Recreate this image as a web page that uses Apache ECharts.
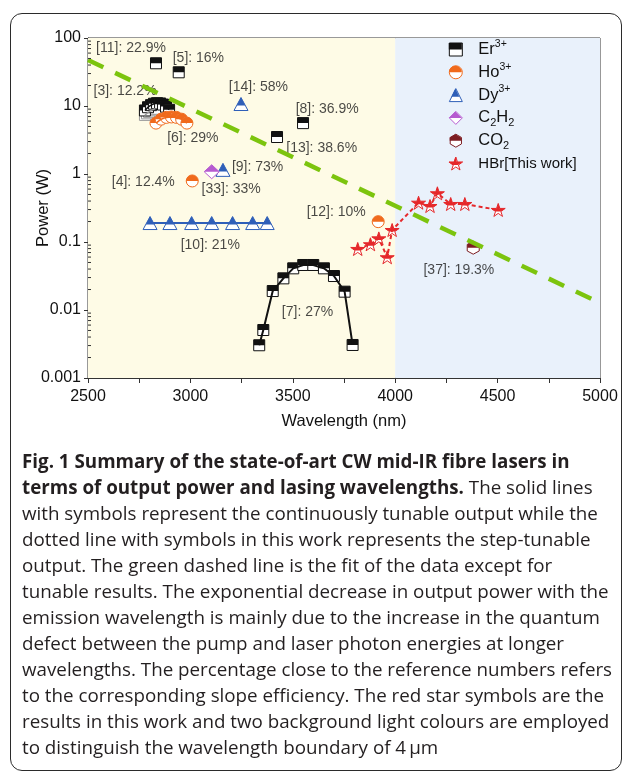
<!DOCTYPE html>
<html>
<head>
<meta charset="utf-8">
<script src="https://cdn.jsdelivr.net/npm/echarts@6.0.0/dist/echarts.min.js"></script>
<style>
html,body{margin:0;padding:0;background:#fff;width:630px;height:776px;overflow:hidden}
#chart{position:absolute;left:0;top:0;width:630px;height:776px}
#frame{position:absolute;left:10px;top:13px;width:612px;height:758px;box-sizing:border-box;border:1.6px solid #2b2b2b;border-radius:12px;pointer-events:none}
#cap{position:absolute;left:22px;top:448px;font-family:'Open Sans',sans-serif;color:#231f20;font-size:16px}
#cap .ln{height:26px;line-height:26px;white-space:nowrap}
#cap b{font-weight:700}
</style>
</head>
<body>
<div id="chart"></div>
<div id="frame"></div>
<div id="cap">
<div class="ln"><b>Fig. 1 Summary of the state-of-art CW mid-IR fibre lasers in</b></div>
<div class="ln"><b>terms of output power and lasing wavelengths.</b> The solid lines</div>
<div class="ln">with symbols represent the continuously tunable output while the</div>
<div class="ln">dotted line with symbols in this work represents the step-tunable</div>
<div class="ln">output. The green dashed line is the fit of the data except for</div>
<div class="ln">tunable results. The exponential decrease in output power with the</div>
<div class="ln">emission wavelength is mainly due to the increase in the quantum</div>
<div class="ln">defect between the pump and laser photon energies at longer</div>
<div class="ln">wavelengths. The percentage close to the reference numbers refers</div>
<div class="ln">to the corresponding slope efficiency. The red star symbols are the</div>
<div class="ln">results in this work and two background light colours are employed</div>
<div class="ln">to distinguish the wavelength boundary of 4&thinsp;μm</div>
</div>
<script>
// ---------------- data ----------------
const bandEdges = [2500, 4000, 5000];
const yDecades = [0.001, 0.01, 0.1, 1, 10];
const minorMultipliers = [2, 3, 4, 5, 6, 7, 8, 9];

const erSingle = [[2832, 42.5], [2943, 31.3], [3423, 3.5], [3550, 5.6]];
const erTunable3Gray = [[2778, 7.4], [2788, 7.8], [2798, 8.2], [2808, 8.6], [2818, 8.9], [2828, 9.1]];
const erTunable3 = [[2778, 8.6], [2793, 9.6], [2808, 10.3], [2822, 10.8], [2837, 11.0], [2852, 10.9], [2866, 10.5], [2881, 9.8], [2896, 8.8]];
const erTunable7 = [[3336, 0.00303], [3356, 0.00508], [3402, 0.019], [3454, 0.0292], [3502, 0.041], [3551, 0.0459], [3600, 0.0459], [3652, 0.041], [3701, 0.0316], [3753, 0.0186], [3792, 0.00306]];
const hoSingle = [[3009, 0.79], [3917, 0.199]];
const hoTunable6 = [[2832, 5.6], [2857, 6.4], [2882, 6.8], [2907, 6.9], [2932, 6.8], [2957, 6.4], [2983, 5.6]];
const dySingle = [[3247, 10.7], [3159, 1.15]];
const dyTunable10 = [[2803, 0.19], [2900, 0.19], [3006, 0.19], [3104, 0.19], [3206, 0.19], [3304, 0.19], [3375, 0.19]];
const c2h2Points = [[3104, 1.08]];
const co2Points = [[4381, 0.0824]];
const hbrPoints = [[3817, 0.0789], [3879, 0.0925], [3920, 0.113], [3961, 0.0596], [3985, 0.15], [4114, 0.378], [4170, 0.338], [4206, 0.52], [4271, 0.362], [4340, 0.362], [4503, 0.296]];
const fitLine = [[2500, 47.5], [5000, 0.0127]];

const refLabelTexts = ['[11]: 22.9%', '[5]: 16%', '[3]: 12.2%', '[14]: 58%', '[8]: 36.9%', '[6]: 29%', '[13]: 38.6%', '[9]: 73%', '[4]: 12.4%', '[33]: 33%', '[10]: 21%', '[12]: 10%', '[7]: 27%', '[37]: 19.3%'];
const refLabelAnchors = [[2710, 70.6], [3039, 51.3], [2681, 16.6], [3332, 18.8], [3668, 9.04], [3012, 3.35], [3641, 2.39], [3328, 1.28], [2770, 0.771], [3199, 0.596], [3097, 0.0903], [3712, 0.279], [3572, 0.00925], [4311, 0.0387]];

const legendNames = ['Er3+', 'Ho3+', 'Dy3+', 'C2H2', 'CO2', 'HBr[This work]'];
const legendRichText = {
  'Er3+': '{m|Er}{sup|3+}', 'Ho3+': '{m|Ho}{sup|3+}', 'Dy3+': '{m|Dy}{sup|3+}',
  'C2H2': '{m|C}{sub|2}{m|H}{sub|2}', 'CO2': '{m|CO}{sub|2}', 'HBr[This work]': '{h|HBr[This work]}'
};

// ---------------- styles ----------------
const FONT = 'Liberation Sans';
const COL = { er: '#111111', erGray: '#9a9a9a', ho: '#f06a1c', dy: '#2f5fb8', c2h2: '#b65bd0', co2: '#7d1d22', hbr: '#e5282b', fit: '#7cc40e' };
const SHAPES = {
  square: { full: 'M0,0L20,0L20,20L0,20Z', top: 'M0,0L20,0L20,10L0,10Z M0,20L20,20L20,20Z', size: [11, 11] },
  circle: { full: 'M0,10 A10,10 0 0,1 20,10 A10,10 0 0,1 0,10 Z', top: 'M0,10 A10,10 0 0,1 20,10 Z M10,20L10,20L10,20Z', size: [12, 12] },
  triangle: { full: 'M10,0L20,20L0,20Z', top: 'M10,0L16.2,12.4L3.8,12.4Z M0,20L20,20L20,20Z', size: [14, 13] },
  diamond: { full: 'M10,0L20,10L10,20L0,10Z', top: 'M10,0L20,10L0,10Z M10,20L10,20L10,20Z', size: [15, 14] },
  hexagon: { full: 'M10,0L18.66,5L18.66,15L10,20L1.34,15L1.34,5Z', top: 'M10,0L18.66,5L18.66,10L1.34,10L1.34,5Z M10,20L10,20L10,20Z', size: [12, 13] },
  star: { full: 'M10,0L12.245,6.91L19.51,6.91L13.633,11.18L15.88,18.09L10,13.82L4.12,18.09L6.367,11.18L0.49,6.91L7.755,6.91Z',
          top: 'M10,0L12.245,6.91L19.51,6.91L13.633,11.18L6.367,11.18L0.49,6.91L7.755,6.91Z M4.12,18.09L15.88,18.09L15.88,18.09Z', size: [14, 13] }
};

function markerSeries(name, data, color, shape) {
  const sh = SHAPES[shape];
  return {
    type: 'custom', name: name, data: data, z: 3, silent: true, clip: false,
    itemStyle: { color: color },
    renderItem: function (params, api) {
      const p = api.coord([api.value(0), api.value(1)]);
      const w = sh.size[0], h = sh.size[1];
      const r = { x: p[0] - w / 2, y: p[1] - h / 2, width: w, height: h, layout: 'cover' };
      return {
        type: 'group', children: [
          { type: 'path', shape: Object.assign({ pathData: sh.full }, r), style: { fill: '#ffffff', stroke: color, lineWidth: 1 } },
          { type: 'path', shape: Object.assign({ pathData: sh.top }, r), style: { fill: color, stroke: null } }
        ]
      };
    }
  };
}
function lineSeries(name, data, color, width, type) {
  return { type: 'line', name: name, data: data, symbol: 'none', silent: true, z: 3,
    lineStyle: { color: color, width: width, type: type || 'solid' }, itemStyle: { color: color } };
}

const legendShapes = { 'Er3+': ['square', COL.er], 'Ho3+': ['circle', COL.ho], 'Dy3+': ['triangle', COL.dy], 'C2H2': ['diamond', COL.c2h2], 'CO2': ['hexagon', COL.co2], 'HBr[This work]': ['star', COL.hbr] };
function richStyles(color) {
  return {
    m: { fontFamily: FONT, fontSize: 16.5, color: color, lineHeight: 22, verticalAlign: 'middle' },
    sup: { fontFamily: FONT, fontSize: 10.5, color: color, lineHeight: 15, verticalAlign: 'top' },
    sub: { fontFamily: FONT, fontSize: 11, color: color, lineHeight: 16, verticalAlign: 'bottom' },
    h: { fontFamily: FONT, fontSize: 15, color: color, lineHeight: 22, verticalAlign: 'middle' }
  };
}
function makeLegend(layer) {
  const isTop = layer === 'top';
  return {
    orient: 'vertical', left: 448.5, top: 38.5, padding: 0, itemWidth: 35, itemHeight: 13, itemGap: 0.8,
    selectedMode: false, symbolKeepAspect: true, z: isTop ? 6 : 5,
    formatter: function (n) { return legendRichText[n]; },
    textStyle: { fontFamily: FONT, fontSize: 16.5, lineHeight: 22, color: isTop ? 'rgba(0,0,0,0)' : '#111', rich: richStyles(isTop ? 'rgba(0,0,0,0)' : '#111') },
    data: legendNames.map(function (n) {
      const s = legendShapes[n];
      return {
        name: n, icon: 'path://' + SHAPES[s[0]][isTop ? 'top' : 'full'],
        itemStyle: isTop ? { color: s[1], borderColor: 'rgba(0,0,0,0)', borderWidth: 0 } : { color: '#ffffff', borderColor: s[1], borderWidth: 1 }
      };
    })
  };
}

const minorTickValues = [];
yDecades.forEach(function (d) { minorMultipliers.forEach(function (m) { minorTickValues.push([bandEdges[0], +(d * m).toPrecision(3)]); }); });

const chart = echarts.init(document.getElementById('chart'), null, { renderer: 'canvas' });
chart.setOption({
  animation: false,
  grid: { left: 88, right: 30, top: 38, bottom: 398, show: true, borderColor: '#333', borderWidth: 1, backgroundColor: 'transparent', containLabel: false, outerBoundsMode: 'none' },
  legend: [makeLegend('base'), makeLegend('top')],
  xAxis: {
    type: 'value', min: 2500, max: 5000, interval: 250,
    axisLine: { show: true, lineStyle: { color: '#333', width: 1 } },
    axisTick: { show: true, inside: false, length: 5, lineStyle: { color: '#333' } },
    axisLabel: { fontFamily: FONT, fontSize: 16, color: '#111', margin: 11, formatter: function (v) { return v % 500 === 0 ? String(v) : ''; } },
    splitLine: { show: false },
    name: 'Wavelength (nm)', nameLocation: 'middle', nameGap: 35, nameMoveOverlap: false,
    nameTextStyle: { fontFamily: FONT, fontSize: 16.5, color: '#111' }
  },
  yAxis: {
    type: 'log', logBase: 10, min: 0.001, max: 100,
    axisLine: { show: true, lineStyle: { color: '#333', width: 1 } },
    axisTick: { show: true, inside: false, length: 4, lineStyle: { color: '#333' } },
    axisLabel: { fontFamily: FONT, fontSize: 16, color: '#111', margin: 7, formatter: function (v) { return String(+Number(v).toPrecision(3)); } },
    splitLine: { show: false },
    name: 'Power (W)', nameLocation: 'middle', nameGap: 36, nameRotate: 90, nameMoveOverlap: false,
    nameTextStyle: { fontFamily: FONT, fontSize: 16.5, color: '#111' }
  },
  series: [
    { type: 'line', name: 'bg', data: [[bandEdges[0], 1]], symbol: 'none', silent: true, z: 0, lineStyle: { opacity: 0 },
      markArea: { silent: true, data: [
        [{ xAxis: bandEdges[0], itemStyle: { color: '#fefbe6' } }, { xAxis: bandEdges[1] }],
        [{ xAxis: bandEdges[1], itemStyle: { color: '#e9f1fb' } }, { xAxis: bandEdges[2] }]
      ] } },
    lineSeries('Er3+', erTunable3Gray, COL.erGray, 1.5),
    markerSeries('Er3+', erTunable3Gray, COL.erGray, 'square'),
    lineSeries('Er3+', erTunable3, COL.er, 1.5),
    markerSeries('Er3+', erTunable3, COL.er, 'square'),
    lineSeries('Ho3+', hoTunable6, COL.ho, 1.5),
    markerSeries('Ho3+', hoTunable6, COL.ho, 'circle'),
    lineSeries('Dy3+', dyTunable10, COL.dy, 2),
    markerSeries('Dy3+', dyTunable10, COL.dy, 'triangle'),
    lineSeries('Er3+', erTunable7, COL.er, 2),
    markerSeries('Er3+', erTunable7, COL.er, 'square'),
    markerSeries('Er3+', erSingle, COL.er, 'square'),
    markerSeries('Ho3+', hoSingle, COL.ho, 'circle'),
    markerSeries('Dy3+', dySingle, COL.dy, 'triangle'),
    markerSeries('C2H2', c2h2Points, COL.c2h2, 'diamond'),
    markerSeries('CO2', co2Points, COL.co2, 'hexagon'),
    lineSeries('HBr[This work]', hbrPoints, COL.hbr, 2, [4, 3]),
    markerSeries('HBr[This work]', hbrPoints, COL.hbr, 'star'),
    { type: 'scatter', name: 'labels', silent: true, z: 5, symbolSize: 1, itemStyle: { color: 'rgba(0,0,0,0)' },
      data: refLabelTexts.map(function (t, i) { return { name: t, value: refLabelAnchors[i] }; }),
      label: { show: true, position: 'inside', formatter: '{b}', fontFamily: FONT, fontSize: 14, color: '#1a1a1a' } },
    { type: 'line', name: 'fit', data: fitLine, symbol: 'none', silent: true, z: 8,
      lineStyle: { color: COL.fit, width: 4.5, type: [17, 13], cap: 'butt' } },
    { type: 'custom', name: 'minorTicks', data: minorTickValues, silent: true, clip: false, z: 9,
      renderItem: function (params, api) {
        const c = api.coord([api.value(0), api.value(1)]);
        return { type: 'line', shape: { x1: c[0], y1: c[1], x2: c[0] + 3, y2: c[1] }, style: { stroke: '#333', lineWidth: 1 } };
      } }
  ]
});

// fit caption font so the widest line spans the caption width
(function fitCaption() {
  const cap = document.getElementById('cap');
  const w = cap.offsetWidth;
  if (w > 0) cap.style.fontSize = (16 * 590 / w).toFixed(2) + 'px';
})();
</script>
</body>
</html>
